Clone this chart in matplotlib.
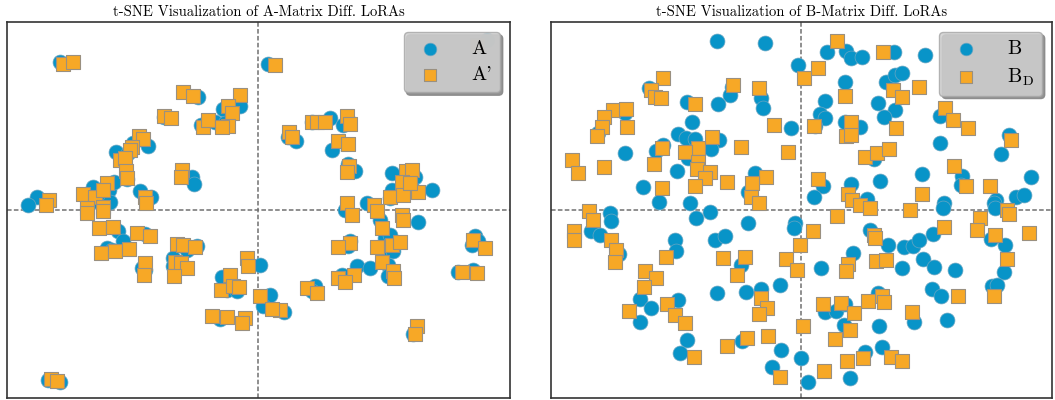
import numpy as np
import matplotlib
matplotlib.use("Agg")
import matplotlib.pyplot as plt

plt.rcParams["font.family"] = ["cmr10", "DejaVu Serif"]
plt.rcParams["mathtext.fontset"] = "cm"
plt.rcParams["axes.unicode_minus"] = False

# ================================
# DATA (t-SNE embedding)
# ================================

a_x = [60, 198, 240, 223, 164, 201, 215, 225, 142, 148, 133, 116, 128, 127, 192, 194, 37, 28, 93, 109,
       114, 100, 110, 140, 151, 268, 487, 288, 296, 312, 330, 348, 343, 332, 348, 355, 392, 415, 392, 432,
       412, 367, 390, 345, 118, 145, 123, 107, 112, 145, 142, 187, 197, 173, 173, 260, 222, 227, 237, 220,
       243, 48, 60, 418, 380, 385, 390, 382, 393, 350, 348, 357, 342, 370, 388, 388, 315, 312, 270, 263,
       284, 475, 478, 472, 458, 473, 413]
a_y = [62, 97, 106, 109, 117, 125, 122, 123, 138, 146, 143, 152, 153, 179, 177, 184, 197, 205, 187, 190,
       182, 203, 202, 191, 197, 64, 40, 137, 141, 122, 118, 120, 125, 150, 164, 171, 173, 177, 190, 190,
       188, 203, 198, 210, 231, 234, 241, 248, 250, 270, 268, 250, 246, 258, 266, 265, 277, 290, 291, 319,
       321, 380, 382, 222, 220, 238, 235, 251, 251, 241, 246, 266, 275, 268, 265, 276, 286, 291, 295, 306,
       312, 236, 241, 245, 272, 270, 334]

ap_x = [63, 73, 183, 193, 240, 228, 232, 164, 171, 203, 208, 228, 222, 139, 143, 132, 130, 120, 125, 126,
        127, 182, 181, 49, 46, 83, 95, 107, 103, 103, 87, 145, 146, 275, 477, 289, 292, 312, 317, 325,
        347, 350, 338, 348, 349, 347, 406, 412, 402, 390, 403, 418, 410, 347, 374, 87, 103, 99, 113, 137,
        150, 101, 115, 129, 145, 144, 177, 183, 195, 175, 181, 187, 174, 247, 248, 230, 221, 233, 239, 260,
        212, 227, 245, 242, 51, 57, 352, 377, 402, 403, 382, 392, 400, 377, 350, 338, 354, 338, 345, 382,
        393, 394, 307, 317, 280, 272, 473, 485, 462, 477, 417, 415]
ap_y = [64, 62, 92, 96, 95, 106, 113, 116, 118, 127, 120, 126, 127, 136, 139, 147, 150, 160, 158, 171,
        178, 170, 177, 200, 205, 194, 197, 183, 190, 207, 208, 197, 203, 65, 45, 132, 137, 122, 122, 122,
        116, 124, 141, 144, 166, 172, 171, 170, 182, 197, 195, 192, 183, 203, 205, 213, 211, 228, 227, 233,
        236, 253, 251, 249, 263, 275, 244, 245, 247, 262, 263, 268, 276, 258, 266, 275, 290, 286, 287, 296,
        316, 317, 318, 323, 379, 381, 215, 211, 215, 220, 228, 245, 242, 247, 243, 247, 275, 278, 282, 262,
        271, 278, 288, 293, 310, 309, 240, 248, 272, 273, 326, 334]

b_x = [717, 765, 649, 732, 730, 761, 763, 687, 718, 625, 598, 692, 791, 678, 686, 695, 719, 711, 688, 663,
       656, 677, 625, 755, 748, 643, 659, 690, 610, 710, 827, 846, 851, 862, 894, 925, 798, 845, 886, 895,
       902, 825, 878, 895, 884, 820, 825, 815, 845, 860, 940, 1009, 1001, 940, 874, 823, 814, 851, 867, 880,
       922, 962, 961, 944, 996, 994, 1016, 1024, 1031, 611, 696, 748, 795, 794, 591, 600, 619, 675, 676, 715,
       725, 741, 640, 651, 640, 678, 717, 746, 761, 780, 687, 680, 742, 781, 772, 801, 943, 995, 870, 888,
       904, 913, 919, 933, 991, 1005, 853, 821, 902, 923, 934, 955, 1004, 992, 997, 932, 941, 878, 825, 836,
       845, 844, 879, 914, 947, 808, 850, 865, 882]
b_y = [41, 43, 88, 87, 95, 98, 108, 102, 104, 113, 133, 122, 128, 134, 138, 139, 140, 149, 158, 145,
       151, 171, 153, 173, 192, 187, 202, 203, 213, 212, 52, 51, 58, 57, 52, 55, 65, 82, 82, 75,
       73, 101, 103, 110, 117, 114, 118, 126, 122, 127, 116, 135, 154, 143, 159, 186, 197, 184, 199, 181,
       174, 176, 185, 203, 200, 203, 197, 195, 177, 221, 218, 223, 223, 228, 231, 235, 254, 240, 251, 240,
       236, 265, 299, 308, 322, 300, 293, 292, 289, 285, 340, 353, 341, 350, 367, 358, 208, 208, 230, 245,
       247, 246, 240, 234, 239, 245, 253, 268, 268, 259, 267, 270, 272, 286, 285, 289, 296, 293, 312, 311,
       304, 325, 326, 322, 320, 382, 378, 352, 347]

bd_x = [663, 651, 655, 661, 733, 759, 695, 613, 626, 604, 602, 597, 627, 774, 712, 698, 685, 698, 697, 710,
        705, 695, 662, 654, 741, 788, 572, 578, 604, 766, 752, 751, 759, 727, 662, 589, 837, 883, 818, 804,
        845, 893, 902, 919, 814, 851, 846, 851, 896, 945, 953, 968, 1011, 865, 877, 889, 818, 848, 852, 860,
        870, 922, 954, 966, 910, 990, 1007, 593, 574, 574, 611, 616, 615, 666, 723, 745, 737, 786, 797, 800,
        645, 656, 644, 629, 667, 675, 685, 761, 767, 759, 694, 727, 747, 768, 780, 803, 837, 980, 977, 1009,
        813, 874, 875, 944, 995, 1029, 848, 846, 876, 886, 1007, 994, 958, 882, 884, 868, 823, 841, 854, 850,
        835, 912, 824, 847, 863, 891, 902]
bd_y = [78, 90, 97, 98, 85, 88, 104, 110, 109, 117, 127, 136, 127, 125, 137, 148, 152, 162, 169, 172,
        178, 186, 148, 164, 147, 152, 160, 173, 167, 177, 183, 197, 203, 182, 188, 211, 41, 52, 68, 78,
        96, 90, 97, 87, 126, 122, 136, 135, 128, 108, 120, 128, 140, 157, 153, 149, 179, 194, 200, 205,
        208, 194, 166, 186, 210, 186, 210, 220, 231, 240, 240, 250, 262, 257, 258, 257, 275, 259, 270, 245,
        271, 278, 287, 311, 304, 315, 323, 298, 308, 314, 357, 346, 338, 336, 377, 326, 216, 218, 230, 214,
        231, 235, 238, 227, 235, 233, 264, 271, 261, 260, 259, 296, 296, 296, 302, 301, 304, 303, 313, 330,
        339, 312, 371, 361, 358, 357, 361]

BLUE = "#0894c8"
ORANGE = "#f7a826"


def draw_panel(ax, cx, cy, xs1, ys1, xs2, ys2, lab1, lab2, title, xlim):
    ax.axvline(cx, color="#707070", lw=1.1, ls=(0, (3, 1.5)), zorder=1)
    ax.axhline(cy, color="#707070", lw=1.1, ls=(0, (3, 1.5)), zorder=1)
    ax.scatter(xs1, ys1, s=115, marker="o", color=BLUE, edgecolors="#6aa6c2",
               linewidths=0.5, label=lab1, zorder=2)
    ax.scatter(xs2, ys2, s=108, marker="s", color=ORANGE, edgecolors="#9a9080",
               linewidths=0.8, label=lab2, zorder=3)
    ax.set_xlim(*xlim)
    ax.set_ylim(398, 22)
    ax.set_xticks([])
    ax.set_yticks([])
    for sp in ax.spines.values():
        sp.set_color("#333333")
        sp.set_linewidth(1.2)
    ax.set_title(title, fontsize=10.5, pad=4)
    leg = ax.legend(loc="upper right", fontsize=14.5, markerscale=0.85, handlelength=1.8,
                    handletextpad=1.15, labelspacing=0.4, borderpad=0.4, borderaxespad=0.5,
                    fancybox=True, shadow={"color": "#888888", "alpha": 0.9},
                    framealpha=0.85, facecolor="#d0d0d0", edgecolor="#a8a8a8")
    leg.set_zorder(5)


fig = plt.figure(figsize=(10.55, 4), dpi=100)
ax1 = fig.add_axes([7 / 1055, 2 / 400, 503 / 1055, 376 / 400])
ax2 = fig.add_axes([551 / 1055, 2 / 400, 501 / 1055, 376 / 400])

draw_panel(ax1, 258, 210, a_x, a_y, ap_x, ap_y, "A", "A'",
           "t-SNE Visualization of A-Matrix Diff. LoRAs", (7, 510))
draw_panel(ax2, 801, 210, b_x, b_y, bd_x, bd_y, "B", r"B$_{\mathrm{D}}$",
           "t-SNE Visualization of B-Matrix Diff. LoRAs", (551, 1052))

fig.savefig("out.png", dpi=100)
